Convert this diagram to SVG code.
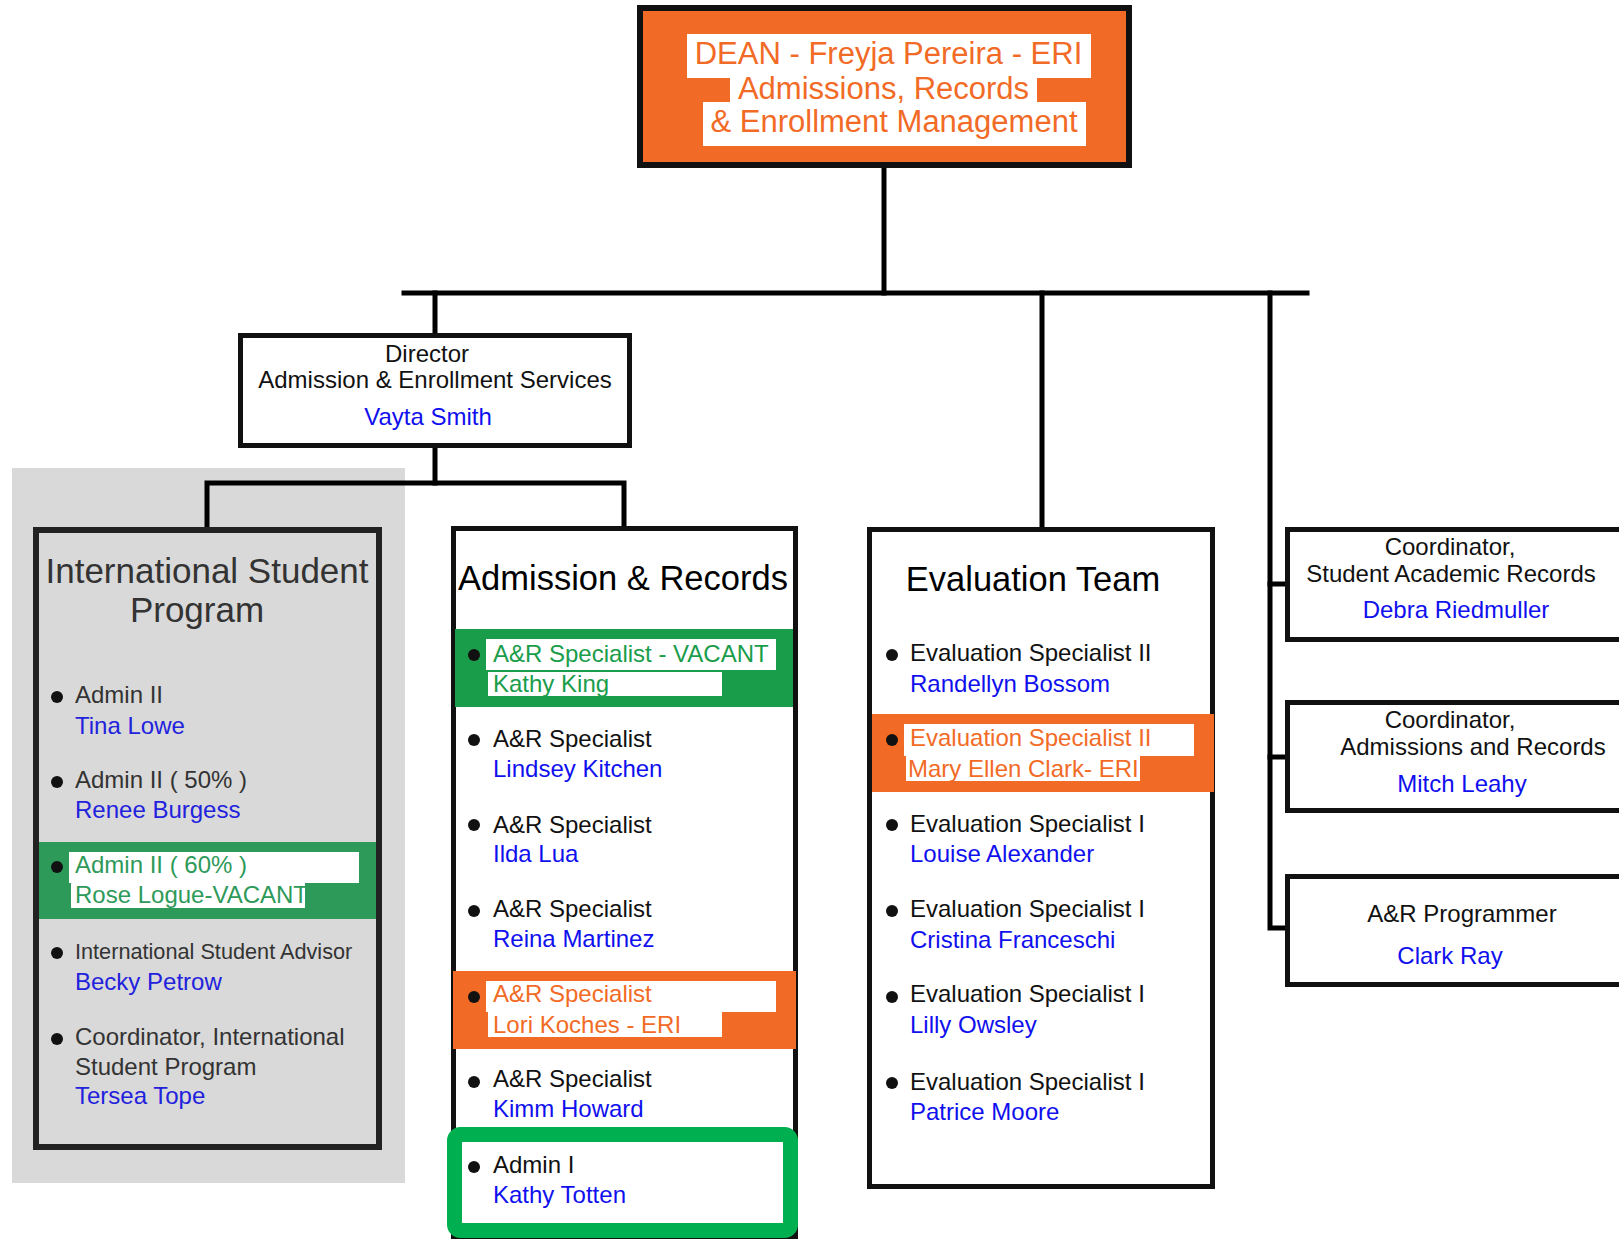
<svg xmlns="http://www.w3.org/2000/svg" width="1619" height="1240" viewBox="0 0 1619 1240">
<style>
text{font-family:"Liberation Sans",Arial,Helvetica,sans-serif}
.box{fill:#fff;stroke:#111;stroke-width:5}
.line{stroke:#000;stroke-width:5;fill:none;stroke-linecap:square}
.role{font-size:24px;fill:#111}
.name{font-size:24px;fill:#1010ee}
.ttl{font-size:34.5px;fill:#000;text-anchor:middle}
.dean{font-size:31px;fill:#f26b26;text-anchor:middle}
.org{fill:#f26b26}
.orgt{font-size:24px;fill:#f26b26}
.wbg{fill:#fff}
.ctr{text-anchor:middle}
.bul{fill:#111}
</style>

<rect x="12" y="468" width="393" height="715" fill="#d9d9d9"/>

<g id="connectors">
  <line class="line" x1="884" y1="168" x2="884" y2="293"/>
  <line class="line" x1="404" y1="293" x2="1307" y2="293"/>
  <line class="line" x1="435" y1="293" x2="435" y2="333"/>
  <line class="line" x1="1042" y1="293" x2="1042" y2="527"/>
  <polyline class="line" points="1270,293 1270,928 1286,928"/>
  <line class="line" x1="1270" y1="584" x2="1286" y2="584"/>
  <line class="line" x1="1270" y1="757" x2="1286" y2="757"/>
  <line class="line" x1="435" y1="448" x2="435" y2="483"/>
  <polyline class="line" points="207,527 207,483 624,483 624,526"/>
</g>

<g id="dean">
  <rect x="640" y="8" width="489" height="157" fill="#f26b26" stroke="#111" stroke-width="6"/>
  <rect class="wbg" x="687" y="34" width="404" height="44"/>
  <rect class="wbg" x="730" y="77" width="307" height="26"/>
  <rect class="wbg" x="703" y="102" width="383" height="44"/>
  <text class="dean" x="888.5" y="64">DEAN - Freyja Pereira - ERI</text>
  <text class="dean" x="883.5" y="98.5">Admissions, Records</text>
  <text class="dean" x="894" y="132">&amp; Enrollment Management</text>
</g>

<g id="director">
  <rect class="box" x="240.5" y="335.5" width="389" height="110"/>
  <text class="role ctr" x="427" y="362">Director</text>
  <text class="role ctr" x="435" y="388">Admission &amp; Enrollment Services</text>
  <text class="name ctr" x="428" y="425">Vayta Smith</text>
</g>

<g id="international-student-program">
  <rect x="36" y="530" width="343" height="617" fill="#d9d9d9" stroke="#222" stroke-width="6"/>
  <text class="ttl" x="207" y="583" style="fill:#333;font-size:35px">International Student</text>
  <text class="ttl" x="197" y="622" style="fill:#333;font-size:35px">Program</text>
  <circle class="bul" cx="57" cy="697" r="6"/>
  <text class="role" x="75" y="703" style="fill:#333">Admin II</text>
  <text class="name" x="75" y="734" style="fill:#2222dd">Tina Lowe</text>
  <circle class="bul" cx="57" cy="782" r="6"/>
  <text class="role" x="75" y="788" style="fill:#333">Admin II ( 50% )</text>
  <text class="name" x="75" y="818" style="fill:#2222dd">Renee Burgess</text>
  <rect x="39" y="842" width="337" height="77" fill="#2e9a5a"/>
  <rect class="wbg" x="69" y="852" width="290" height="31"/>
  <rect class="wbg" x="71" y="883" width="234" height="25"/>
  <circle class="bul" cx="57" cy="867" r="6"/>
  <text x="75" y="873" font-size="24" fill="#2e9a5a">Admin II ( 60% )</text>
  <text x="75" y="903" font-size="24" fill="#2e9a5a">Rose Logue-VACANT</text>
  <circle class="bul" cx="57" cy="953" r="6"/>
  <text x="75" y="959" font-size="21.7" fill="#333">International Student Advisor</text>
  <text class="name" x="75" y="990" style="fill:#2222dd">Becky Petrow</text>
  <circle class="bul" cx="57" cy="1039" r="6"/>
  <text class="role" x="75" y="1045" style="fill:#333">Coordinator, International</text>
  <text class="role" x="75" y="1075" style="fill:#333">Student Program</text>
  <text class="name" x="75" y="1104" style="fill:#2222dd">Tersea Tope</text>
</g>

<g id="admission-records">
  <rect class="box" x="453.5" y="528.5" width="342" height="708"/>
  <text class="ttl" x="623" y="590">Admission &amp; Records</text>
  <rect x="455" y="629" width="338" height="78" fill="#1a9d4b"/>
  <rect class="wbg" x="486" y="639" width="290" height="31"/>
  <rect class="wbg" x="488" y="672" width="234" height="24"/>
  <circle class="bul" cx="474" cy="655" r="6"/>
  <text x="493" y="662" font-size="24" fill="#1a9d4b">A&amp;R Specialist - VACANT</text>
  <text x="493" y="692" font-size="24" fill="#1a9d4b">Kathy King</text>
  <circle class="bul" cx="474" cy="740" r="6"/>
  <text class="role" x="493" y="747">A&amp;R Specialist</text>
  <text class="name" x="493" y="777">Lindsey Kitchen</text>
  <circle class="bul" cx="474" cy="825" r="6"/>
  <text class="role" x="493" y="833">A&amp;R Specialist</text>
  <text class="name" x="493" y="862">Ilda Lua</text>
  <circle class="bul" cx="474" cy="911" r="6"/>
  <text class="role" x="493" y="917">A&amp;R Specialist</text>
  <text class="name" x="493" y="947">Reina Martinez</text>
  <rect class="org" x="453" y="971" width="343" height="78"/>
  <rect class="wbg" x="486" y="981" width="290" height="31"/>
  <rect class="wbg" x="488" y="1012" width="234" height="25"/>
  <circle class="bul" cx="474" cy="997" r="6"/>
  <text class="orgt" x="493" y="1002">A&amp;R Specialist</text>
  <text class="orgt" x="493" y="1033">Lori Koches - ERI</text>
  <circle class="bul" cx="474" cy="1082" r="6"/>
  <text class="role" x="493" y="1087">A&amp;R Specialist</text>
  <text class="name" x="493" y="1117">Kimm Howard</text>
</g>

<g id="admin-i">
  <rect x="454.5" y="1134.5" width="336" height="96" rx="6" fill="#fff" stroke="#00b050" stroke-width="15"/>
  <circle class="bul" cx="474" cy="1167" r="6"/>
  <text class="role" x="493" y="1173">Admin I</text>
  <text class="name" x="493" y="1203">Kathy Totten</text>
</g>

<g id="evaluation-team">
  <rect class="box" x="869.5" y="529.5" width="343" height="657"/>
  <text class="ttl" x="1033" y="591">Evaluation Team</text>
  <circle class="bul" cx="892" cy="655" r="6"/>
  <text class="role" x="910" y="661">Evaluation Specialist II</text>
  <text class="name" x="910" y="692">Randellyn Bossom</text>
  <rect class="org" x="872" y="714" width="342" height="78"/>
  <rect class="wbg" x="904" y="724" width="290" height="32"/>
  <rect class="wbg" x="906" y="756" width="234" height="25"/>
  <circle class="bul" cx="892" cy="740" r="6"/>
  <text class="orgt" x="910" y="746">Evaluation Specialist II</text>
  <text class="orgt" x="908" y="777">Mary Ellen Clark- ERI</text>
  <circle class="bul" cx="892" cy="825" r="6"/>
  <text class="role" x="910" y="832">Evaluation Specialist I</text>
  <text class="name" x="910" y="862">Louise Alexander</text>
  <circle class="bul" cx="892" cy="911" r="6"/>
  <text class="role" x="910" y="917">Evaluation Specialist I</text>
  <text class="name" x="910" y="948">Cristina Franceschi</text>
  <circle class="bul" cx="892" cy="997" r="6"/>
  <text class="role" x="910" y="1002">Evaluation Specialist I</text>
  <text class="name" x="910" y="1033">Lilly Owsley</text>
  <circle class="bul" cx="892" cy="1083" r="6"/>
  <text class="role" x="910" y="1090">Evaluation Specialist I</text>
  <text class="name" x="910" y="1120">Patrice Moore</text>
</g>

<g id="coord-student-records">
  <rect class="box" x="1287.5" y="529.5" width="400" height="110"/>
  <text class="role ctr" x="1450" y="555">Coordinator,</text>
  <text class="role ctr" x="1451" y="582">Student Academic Records</text>
  <text class="name ctr" x="1456" y="618">Debra Riedmuller</text>
</g>

<g id="coord-admissions-records">
  <rect class="box" x="1287.5" y="702.5" width="400" height="108"/>
  <text class="role ctr" x="1450" y="728">Coordinator,</text>
  <text class="role ctr" x="1473" y="755">Admissions and Records</text>
  <text class="name ctr" x="1462" y="792">Mitch Leahy</text>
</g>

<g id="ar-programmer">
  <rect class="box" x="1287.5" y="876.5" width="400" height="108"/>
  <text class="role ctr" x="1462" y="922">A&amp;R Programmer</text>
  <text class="name ctr" x="1450" y="964">Clark Ray</text>
</g>
</svg>
